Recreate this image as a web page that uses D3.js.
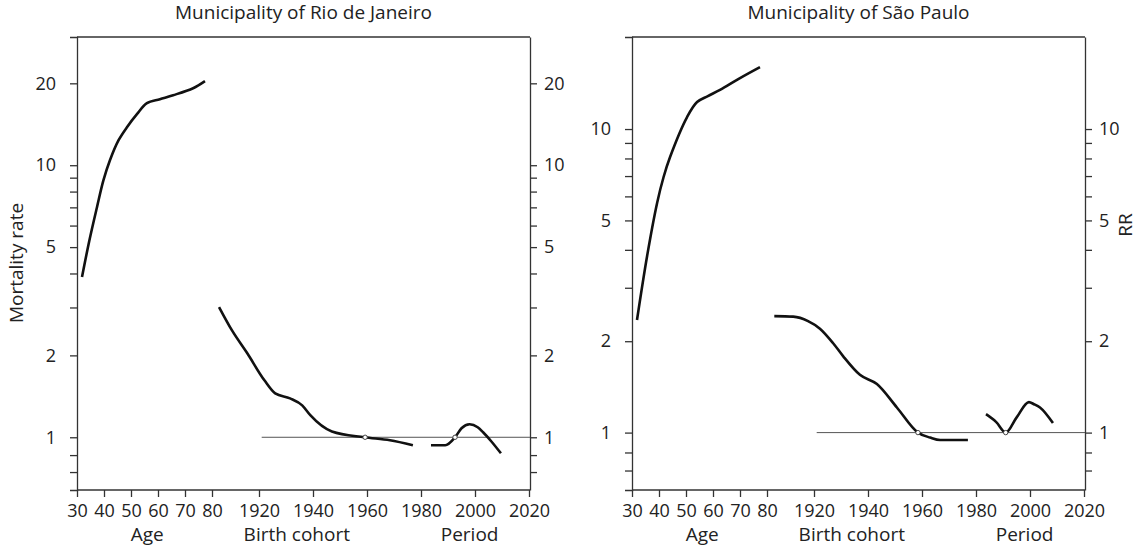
<!DOCTYPE html>
<html lang="en">
    <head>
        <meta charset="UTF-8">
        <title>APC curves</title>
        <script src="https://d3js.org/d3.v7.min.js"></script>
    </head>

    <style>
        body {margin: 0; background: white;}
        text {font-family: "Open Sans", sans-serif; fill: #222;}
        .axis path, .axis line {stroke: #333; stroke-width: 1.3;}
        .axis text {font-size: 18px;}
        .lbl {font-size: 19px;}
        .curve {fill: none; stroke: #111; stroke-width: 2.6;}
    </style>

    <body onload='init()'>
        <svg width="1138" height="549"></svg>

        <script>
            // x axis ticks
            const ageTicks = [30, 40, 50, 60, 70, 80];
            const yearTicks = [1920, 1940, 1960, 1980, 2000, 2020];

            // y axis ticks (log scale)
            const rioTicks = [1, 2, 5, 10, 20];
            const rioMinor = [0.745, 0.86, 3, 4, 6, 7, 8, 9];
            const spTicks = [1, 2, 5, 10];
            const spMinor = [0.75, 0.86, 3, 4, 6, 7, 8, 9];

            // Rio de Janeiro
            const rioAge = [31.85, 34.6, 37.4, 39.8, 42.2, 45.4, 48.5, 52.2, 55.9, 60.7, 65.6, 73, 77.4];
            const rioAgeRate = [3.88, 5.30, 7.01, 8.81, 10.43, 12.36, 13.79, 15.40, 16.90, 17.49, 18.08, 19.19, 20.37];
            const rioCohort = [1905.2, 1910, 1915.6, 1922, 1926, 1931.5, 1936, 1939, 1947, 1959, 1968.5, 1977];
            const rioCohortRR = [3.01, 2.47, 2.04, 1.62, 1.45, 1.39, 1.31, 1.205, 1.05, 1.0, 0.975, 0.935];
            const rioPeriod = [1983.7, 1989, 1992.6, 1995, 1998, 2001, 2003, 2006, 2009.6];
            const rioPeriodRR = [0.935, 0.935, 1.0, 1.079, 1.116, 1.088, 1.043, 0.967, 0.873];
            const rioRef = [1959.3, 1992.6];

            // Sao Paulo
            const spAge = [31.85, 35.6, 39.3, 41.7, 44.1, 50.4, 54.1, 58.1, 62.6, 70, 77.4];
            const spAgeRate = [2.35, 3.82, 5.71, 6.95, 8.09, 10.95, 12.27, 12.84, 13.45, 14.72, 16.0];
            const spCohort = [1905.3, 1912.3, 1917.8, 1922.2, 1927.1, 1930.9, 1937, 1943.3, 1950.7, 1958.5, 1963, 1966.7, 1977];
            const spCohortRR = [2.42, 2.41, 2.33, 2.20, 1.97, 1.78, 1.55, 1.445, 1.21, 1.0, 0.963, 0.945, 0.945];
            const spPeriod = [1983.7, 1987.5, 1991, 1995, 1999.6, 2001.5, 2003.7, 2008.5];
            const spPeriodRR = [1.15, 1.083, 1.0, 1.12, 1.26, 1.24, 1.21, 1.075];
            const spRef = [1958.5, 1991];

            function init() {
                var svg = d3.select("svg");
                var top = 37, bottom = 490;

                var panels = [
                    {x0: 77, title: "Municipality of Rio de Janeiro", dom: [0.64, 29.6], ticks: rioTicks, minor: rioMinor,
                     age: rioAge, ageV: rioAgeRate, coh: rioCohort, cohV: rioCohortRR, per: rioPeriod, perV: rioPeriodRR, ref: rioRef},
                    {x0: 632, title: "Municipality of São Paulo", dom: [0.647, 20.1], ticks: spTicks, minor: spMinor,
                     age: spAge, ageV: spAgeRate, coh: spCohort, cohV: spCohortRR, per: spPeriod, perV: spPeriodRR, ref: spRef}
                ];

                panels.forEach(function(p) {
                    var g = svg.append("g").attr("transform", "translate(" + p.x0 + ",0)");
                    var w = 453;
                    var xAge = d3.scaleLinear().domain([30, 80]).range([0, 135]);
                    var xYear = d3.scaleLinear().domain([1920, 2020]).range([182, 452]);
                    var y = d3.scaleLog().domain(p.dom).range([bottom, top]);

                    // frame lines
                    g.append("line").attr("x1", 0).attr("x2", w).attr("y1", top).attr("y2", top)
                        .attr("stroke", "#333").attr("stroke-width", 1.3);
                    g.append("line").attr("x1", 0).attr("x2", w).attr("y1", bottom).attr("y2", bottom)
                        .attr("stroke", "#333").attr("stroke-width", 1.3);

                    // left axis
                    var left = g.append("g").attr("class", "axis")
                        .call(d3.axisLeft(y).tickValues(p.ticks).tickFormat(d3.format("d"))
                            .tickSize(7).tickSizeOuter(7).tickPadding(14));
                    left.append("g").call(d3.axisLeft(y).tickValues(p.minor).tickFormat("").tickSize(7))
                        .select(".domain").remove();

                    // right axis
                    var right = g.append("g").attr("class", "axis").attr("transform", "translate(" + w + ",0)")
                        .call(d3.axisRight(y).tickValues(p.ticks).tickFormat(d3.format("d"))
                            .tickSize(7).tickSizeOuter(0).tickPadding(7));
                    right.append("g").call(d3.axisRight(y).tickValues(p.minor).tickFormat("").tickSize(7))
                        .select(".domain").remove();

                    // bottom axes
                    g.append("g").attr("class", "axis").attr("transform", "translate(0," + bottom + ")")
                        .call(d3.axisBottom(xAge).tickValues(ageTicks).tickSize(7).tickPadding(7))
                        .select(".domain").remove();
                    g.append("g").attr("class", "axis").attr("transform", "translate(0," + bottom + ")")
                        .call(d3.axisBottom(xYear).tickValues(yearTicks).tickFormat(d3.format("d")).tickSize(7).tickPadding(7))
                        .select(".domain").remove();

                    // reference line at RR = 1
                    g.append("line").attr("x1", xYear(1921)).attr("x2", w)
                        .attr("y1", y(1)).attr("y2", y(1))
                        .attr("stroke", "#555").attr("stroke-width", 1);

                    // curves
                    var ageLine = d3.line().x(function(d) {return xAge(d[0]);}).y(function(d) {return y(d[1]);}).curve(d3.curveCatmullRom.alpha(0.5));
                    var yearLine = d3.line().x(function(d) {return xYear(d[0]);}).y(function(d) {return y(d[1]);}).curve(d3.curveMonotoneX);

                    g.append("path").attr("class", "curve").attr("d", ageLine(d3.zip(p.age, p.ageV)));
                    g.append("path").attr("class", "curve").attr("d", yearLine(d3.zip(p.coh, p.cohV)));
                    g.append("path").attr("class", "curve").attr("d", yearLine(d3.zip(p.per, p.perV)));

                    // reference points
                    g.selectAll("circle").data(p.ref).enter().append("circle")
                        .attr("cx", function(d) {return xYear(d);})
                        .attr("cy", y(1))
                        .attr("r", 2.2)
                        .attr("fill", "white").attr("stroke", "#333").attr("stroke-width", 0.9);

                    // titles and labels
                    g.append("text").attr("class", "lbl").attr("x", w / 2).attr("y", 19).attr("text-anchor", "middle").text(p.title);
                    g.append("text").attr("class", "lbl").attr("x", xAge(56)).attr("y", 541).attr("text-anchor", "middle").text("Age");
                    g.append("text").attr("class", "lbl").attr("x", xYear(1934)).attr("y", 541).attr("text-anchor", "middle").text("Birth cohort");
                    g.append("text").attr("class", "lbl").attr("x", xYear(1998)).attr("y", 541).attr("text-anchor", "middle").text("Period");
                });

                svg.append("text").attr("class", "lbl").attr("transform", "translate(23,263) rotate(-90)")
                    .attr("text-anchor", "middle").text("Mortality rate");
                svg.append("text").attr("class", "lbl").attr("transform", "translate(1132,225) rotate(-90)")
                    .attr("text-anchor", "middle").text("RR");
            }
        </script>
    </body>
</html>
